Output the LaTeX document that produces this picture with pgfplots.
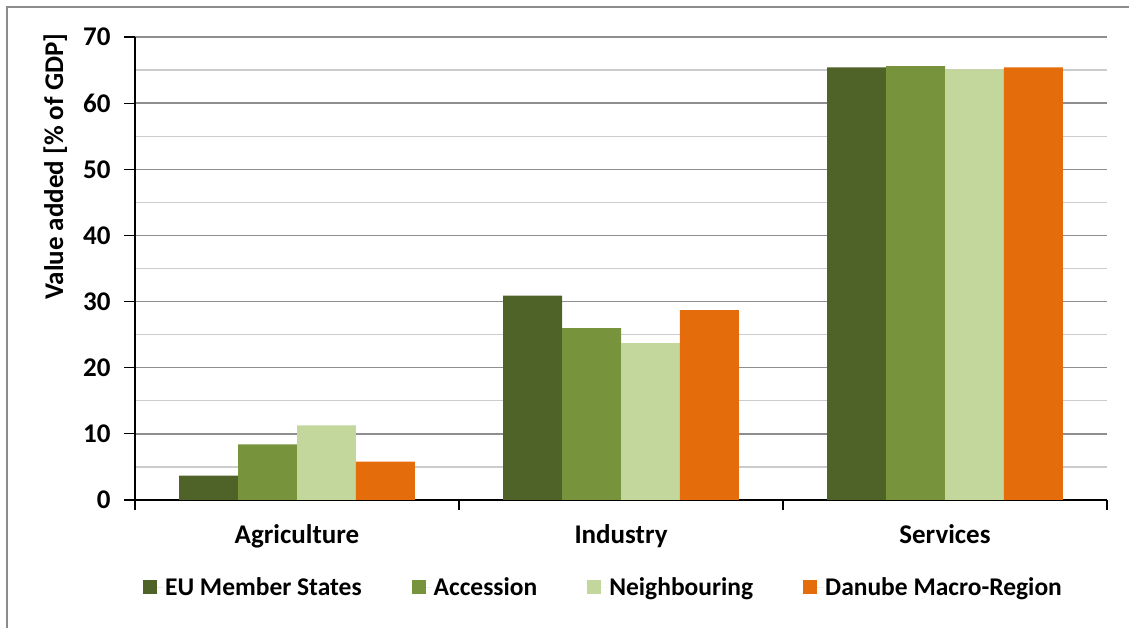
\documentclass[border=0pt]{standalone}
\usepackage{pgfplots}
\pgfplotsset{compat=1.18}
\usepackage{fontspec}
\setmainfont{Carlito}
\definecolor{euc}{HTML}{4F6228}
\definecolor{accc}{HTML}{77933C}
\definecolor{neic}{HTML}{C3D69B}
\definecolor{danc}{HTML}{E46C0A}
\definecolor{framegray}{HTML}{8C8C8C}
\definecolor{majgrid}{HTML}{8E8E8E}
\definecolor{mingrid}{HTML}{CCCCCC}
\newcommand{\chartfont}{\fontsize{27}{31}\selectfont\bfseries}
\newcommand{\legfont}{\fontsize{25.5}{30}\selectfont\bfseries}
\begin{document}
\begin{tikzpicture}[x=1pt,y=1pt]
\useasboundingbox (0,0) rectangle (1129,628);
\draw[color=framegray, line width=2.5pt] (7,0) -- (7,621) -- (1129,621);
\begin{axis}[
  at={(135pt,128pt)}, anchor=south west,
  width=972pt, height=463pt, scale only axis,
  xmin=-0.5, xmax=2.5, ymin=0, ymax=70,
  ybar, bar width=0.182,
  legend image code/.code={\fill[#1] (0pt,-7pt) rectangle (14pt,7pt); \path (0pt,0pt) -- (20pt,0pt);},
  axis x line*=bottom, axis y line*=left,
  axis line style={black, line width=1.2pt},
  xtick={0,1,2}, xticklabels={Agriculture,Industry,Services},
  major x tick style={draw=none},
  minor xtick={-0.5,0.5,1.5,2.5},
  minor x tick style={black, line width=1.2pt},
  ytick={0,10,...,70},
  minor ytick={5,15,...,65},
  minor y tick style={draw=none},
  major y tick style={black, line width=1.2pt},
  tick align=outside,
  major tick length=11pt, minor tick length=10pt,
  ymajorgrids, yminorgrids,
  major grid style={majgrid, line width=1.3pt},
  minor grid style={mingrid, line width=1.3pt},
  tick label style={font=\chartfont},
  xticklabel style={yshift=-10pt},
  yticklabel style={/pgf/number format/assume math mode=true, xshift=-10pt},
  ylabel={Value added [\% of GDP]},
  ylabel style={font=\chartfont, at={(axis description cs:-0.082,0.72)}, anchor=center},
  legend style={at={(0.482,-0.188)}, anchor=center, draw=none, fill=none,
    font=\legfont, legend columns=4,
    /tikz/every even column/.append style={column sep=48pt}},
]
\addplot[fill=euc, draw=none, bar shift=-0.273] coordinates {(0,3.7) (1,30.9) (2,65.4)};
\addplot[fill=accc, draw=none, bar shift=-0.091] coordinates {(0,8.4) (1,26.0) (2,65.6)};
\addplot[fill=neic, draw=none, bar shift=0.091] coordinates {(0,11.3) (1,23.7) (2,65.1)};
\addplot[fill=danc, draw=none, bar shift=0.273] coordinates {(0,5.8) (1,28.7) (2,65.4)};
\legend{EU Member States, Accession, Neighbouring, Danube Macro-Region}
\end{axis}
\end{tikzpicture}
\end{document}
